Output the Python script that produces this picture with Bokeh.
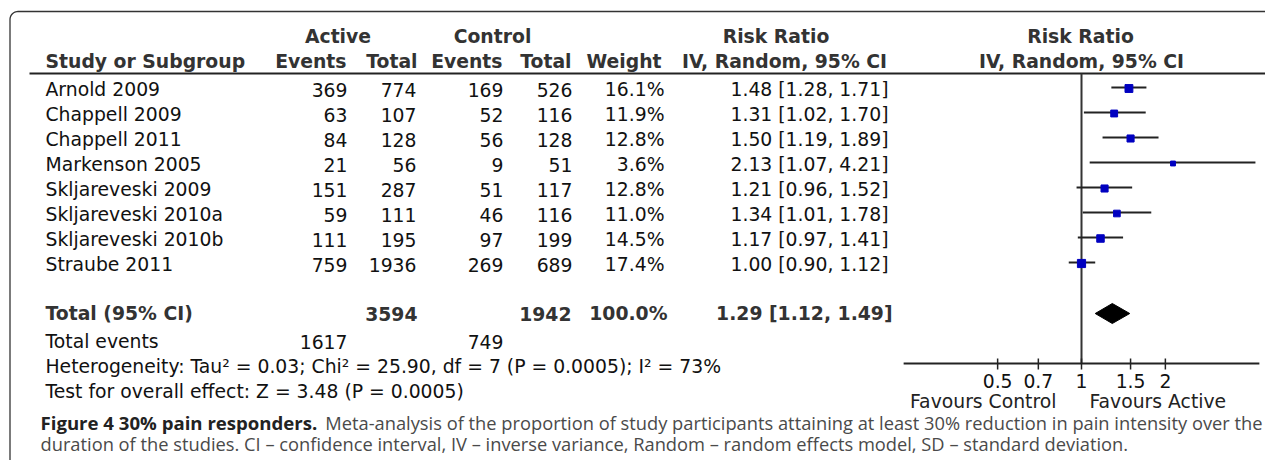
import numpy as np
from bokeh.plotting import figure
from bokeh.models import Range1d, LogScale
from bokeh.embed import file_html
from bokeh.resources import INLINE
from bokeh.core.properties import value

# ---------------- data ----------------
studies = ["Arnold 2009", "Chappell 2009", "Chappell 2011", "Markenson 2005",
           "Skljareveski 2009", "Skljareveski 2010a", "Skljareveski 2010b", "Straube 2011"]
active_events = [369, 63, 84, 21, 151, 59, 111, 759]
active_total = [774, 107, 128, 56, 287, 111, 195, 1936]
control_events = [169, 52, 56, 9, 51, 46, 97, 269]
control_total = [526, 116, 128, 51, 117, 116, 199, 689]
weights = [16.1, 11.9, 12.8, 3.6, 12.8, 11.0, 14.5, 17.4]
rr = [1.48, 1.31, 1.50, 2.13, 1.21, 1.34, 1.17, 1.00]
rr_lo = [1.28, 1.02, 1.19, 1.07, 0.96, 1.01, 0.97, 0.90]
rr_hi = [1.71, 1.70, 1.89, 4.21, 1.52, 1.78, 1.41, 1.12]

total_active = 3594
total_control = 1942
total_weight = 100.0
pooled = [1.29]
pooled_lo = [1.12]
pooled_hi = [1.49]
events_active = 1617
events_control = 749

heterogeneity = "Heterogeneity: Tau\u00b2 = 0.03; Chi\u00b2 = 25.90, df = 7 (P = 0.0005); I\u00b2 = 73%"
overall = "Test for overall effect: Z = 3.48 (P = 0.0005)"
tick_values = [0.5, 0.7, 1, 1.5, 2]
tick_labels = ["0.5", "0.7", "1", "1.5", "2"]
favours = ["Favours Control", "Favours Active"]
caption_bold = "Figure 4 30% pain responders."
caption_1 = ("Meta-analysis of the proportion of study participants attaining at least "
             "30% reduction in pain intensity over the")
caption_2 = ("duration of the studies. CI \u2013 confidence interval, IV \u2013 inverse variance, "
             "Random \u2013 random effects model, SD \u2013 standard deviation.")

# ---------------- layout ----------------
W, H = 1265, 460
ONE_X = 1081.0        # pixel position of RR = 1
PX_PER_LN = 121.0     # pixels per natural-log unit
AXIS_HALF = 1.47      # half-extent of the forest axis in ln units

p = figure(width=W, height=H, x_range=Range1d(0, W), y_range=Range1d(H, 0),
           x_axis_type=None, y_axis_type=None, output_backend="svg",
           toolbar_location=None, min_border=0, outline_line_color=None)
p.min_border_left = p.min_border_right = p.min_border_top = p.min_border_bottom = 0
p.background_fill_color = "white"
p.border_fill_color = "white"
p.extra_x_ranges = {"rr": Range1d(float(np.exp((0 - ONE_X) / PX_PER_LN)),
                                  float(np.exp((W - ONE_X) / PX_PER_LN)))}
p.extra_x_scales = {"rr": LogScale()}

TF = value("DejaVu Sans")
TS = value("18.8px")
CF = value("Open Sans")
CS = value("18.3px")
CSB = value("18.6px")

# frame (rounded top-left corner)
r = 8.0
cx, cy = 9.5 + r, 11.0 + r
th = np.linspace(np.pi, np.pi / 2, 12)
fx = [9.5] + list(cx + r * np.cos(th)) + [W]
fy = [H] + list(cy - r * np.sin(th)) + [11.0]
p.line(fx, fy, line_color="#333333", line_width=1.3)

# header
hdr_color = "#333333"
y1, y2 = 36, 61
bold = dict(text_baseline="middle", text_font=TF, text_font_size=TS,
            text_font_style="bold", text_color=hdr_color)
p.text(x=[337.5, 492], y=[y1, y1], text=["Active", "Control"], text_align="center", **bold)
p.text(x=[775.5, 1080], y=[y1, y1], text=["Risk Ratio", "Risk Ratio"], text_align="center", **bold)
p.text(x=[45], y=[y2], text=["Study or Subgroup"], text_align="left", **bold)
p.text(x=[346, 417, 502, 571, 661], y=[y2] * 5,
       text=["Events", "Total", "Events", "Total", "Weight"], text_align="right", **bold)
p.text(x=[784, 1081], y=[y2, y2], text=["IV, Random, 95% CI"] * 2, text_align="center", **bold)
p.segment(x0=[29], x1=[W], y0=[73], y1=[73], line_color="#222222", line_width=2)

# study rows
row_y = [89 + 25 * i for i in range(len(studies))]
txt = "#111111"
reg = dict(text_baseline="middle", text_font=TF, text_font_size=TS, text_color=txt)
p.text(x=[45] * len(studies), y=row_y, text=studies, text_align="left", **reg)
cols = [(347, [str(v) for v in active_events]),
        (416, [str(v) for v in active_total]),
        (503, [str(v) for v in control_events]),
        (572, [str(v) for v in control_total]),
        (664, ["%.1f%%" % w for w in weights]),
        (888, ["%.2f [%.2f, %.2f]" % (a, b, c) for a, b, c in zip(rr, rr_lo, rr_hi)])]
for cxp, vals in cols:
    p.text(x=[cxp] * len(vals), y=row_y, text=vals, text_align="right", **reg)

# total row
ty = 313
p.text(x=[45], y=[ty], text=["Total (95% CI)"], text_align="left", **bold)
p.text(x=[417, 571, 667, 892], y=[ty] * 4,
       text=[str(total_active), str(total_control), "%.1f%%" % total_weight,
             "%.2f [%.2f, %.2f]" % (pooled[0], pooled_lo[0], pooled_hi[0])],
       text_align="right", **bold)

# footer lines
p.text(x=[45], y=[341], text=["Total events"], text_align="left", **reg)
p.text(x=[347, 503], y=[341, 341], text=[str(events_active), str(events_control)],
       text_align="right", **reg)
p.text(x=[45, 45], y=[366, 391], text=[heterogeneity, overall], text_align="left", **reg)

# forest plot
fy_rows = [y - 2 for y in row_y]
p.segment(x0=[1], x1=[1], y0=[73], y1=[363], x_range_name="rr",
          line_color="#333333", line_width=2)
p.segment(x0=rr_lo, x1=rr_hi, y0=fy_rows, y1=fy_rows, x_range_name="rr",
          line_color="#222222", line_width=2)
sizes = [4 + 0.24 * w for w in weights]
p.scatter(x=rr, y=[y + 1 for y in fy_rows], size=sizes, marker="square", x_range_name="rr",
          fill_color="#0000c0", line_color="#0000c0")
p.patch(x=[pooled_lo[0], pooled[0], pooled_hi[0], pooled[0]],
        y=[ty, ty - 10, ty, ty + 10], x_range_name="rr",
        fill_color="black", line_color="black")

# forest axis
p.segment(x0=[float(np.exp(-AXIS_HALF))], x1=[float(np.exp(AXIS_HALF))], y0=[363], y1=[363],
          x_range_name="rr", line_color="#222222", line_width=2)
p.segment(x0=tick_values, x1=tick_values, y0=[358] * 5, y1=[369] * 5, x_range_name="rr",
          line_color="#222222", line_width=1.5)
p.text(x=tick_values, y=[380] * 5, text=tick_labels, x_range_name="rr", text_align="center",
       **reg)
p.text(x=[ONE_X - 25], y=[401], text=[favours[0]], text_align="right",
       text_baseline="middle", text_font=TF, text_font_size=TS, text_color="#222222")
p.text(x=[ONE_X + 8], y=[401], text=[favours[1]], text_align="left",
       text_baseline="middle", text_font=TF, text_font_size=TS, text_color="#222222")

# caption (first line justified between the margins)
p.text(x=[40], y=[422], text=[caption_bold], text_align="left", text_baseline="middle",
       text_font=CF, text_font_size=CSB, text_font_style="bold", text_color="#222222")
p.text(x=[1262], y=[422], text=[caption_1], text_align="right", text_baseline="middle",
       text_font=CF, text_font_size=CS, text_color="#4a4a4a")
p.text(x=[40], y=[443], text=[caption_2], text_align="left", text_baseline="middle",
       text_font=CF, text_font_size=CS, text_color="#4a4a4a")

open("out.html", "w").write(file_html(p, INLINE))
